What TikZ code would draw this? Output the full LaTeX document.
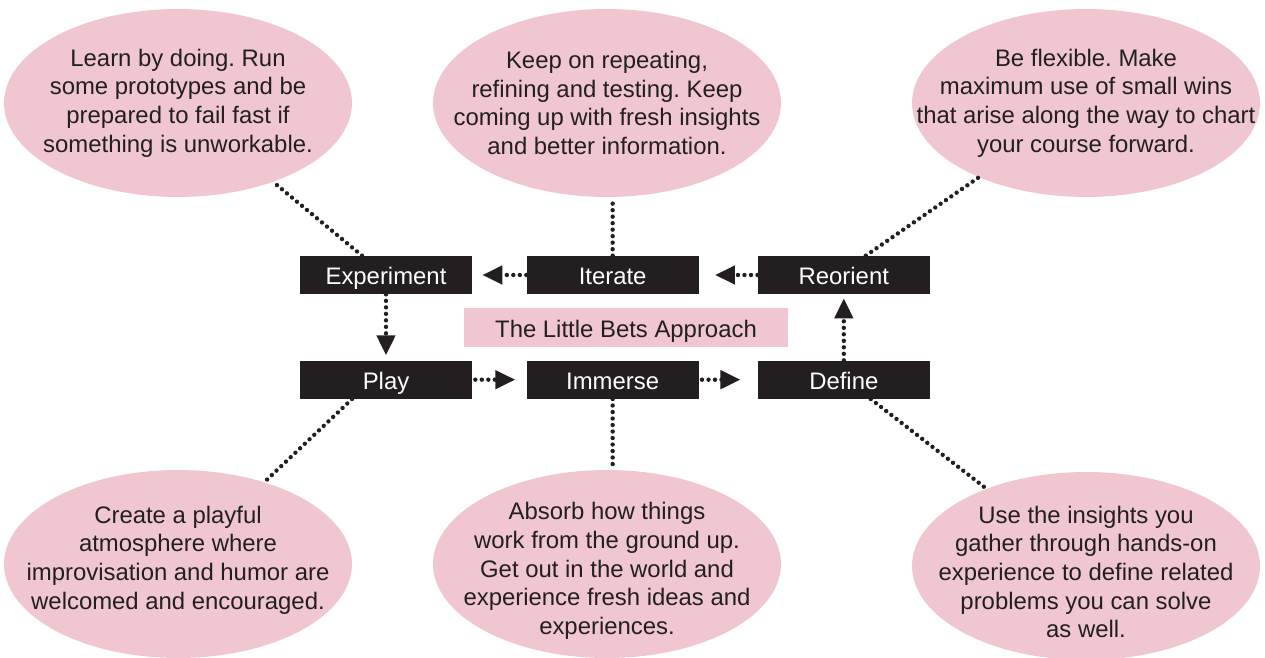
\documentclass[tikz,border=0pt]{standalone}
\usepackage{fontspec}
\setmainfont{Liberation Sans}
\frenchspacing
\usetikzlibrary{arrows.meta, positioning, shapes.geometric}
\definecolor{BetPink}{RGB}{240, 198, 208}
\definecolor{Ink}{RGB}{35, 31, 32}

\begin{document}
\begin{tikzpicture}[
    x=0.02cm, y=-0.02cm,
    every node/.style={font=\fontsize{13.6}{16.3}\selectfont, align=center},
    stage/.style={fill=Ink, text=white, inner sep=0pt, text height=11.2pt, text depth=0pt,
                minimum width=3.44cm, minimum height=0.76cm},
    bubble/.style={ellipse, fill=BetPink, inner sep=0pt,
                minimum width=6.96cm, minimum height=3.76cm},
    blurb/.style={text=Ink, inner sep=0pt},
    heading/.style={fill=BetPink, text=Ink, inner sep=0pt, text height=11.2pt, text depth=0pt,
                minimum width=6.48cm, minimum height=0.78cm},
    dotline/.style={Ink, line width=2.5pt, line cap=round, dash pattern=on 0pt off 3.7pt},
    flow/.style={dotline, -{Triangle[length=0.4cm, width=0.36cm]}}
]
\useasboundingbox (0,0) rectangle (1265,658);

% the six stages
\node[stage] (exp) at (386,275) {Experiment};
\node[stage, right=1.08cm of exp] (it) {Iterate};
\node[stage, right=1.17cm of it] (reo) {Reorient};
\node[stage, below=1.32cm of exp] (play) {Play};
\node[stage, below=1.32cm of it] (imm) {Immerse};
\node[stage, below=1.32cm of reo] (def) {Define};
\node[heading] (lba) at (626,327.5) {The Little Bets Approach};

% the bubbles
\node[bubble] (tl) at (178,103) {};
\node[blurb] (tltext) at (178,103) {Learn by doing. Run\\some prototypes and be\\prepared to fail fast if\\something is unworkable.};
\node[bubble] (tm) at (607,103) {};
\node[blurb] (tmtext) at (607,103) {Keep on repeating,\\refining and testing. Keep\\coming up with fresh insights\\and better information.};
\node[bubble] (tr) at (1086,103) {};
\node[blurb] (trtext) at (1086,103) {Be flexible. Make\\maximum use of small wins\\that arise along the way to chart\\your course forward.};
\node[bubble] (bl) at (178,564) {};
\node[blurb] (bltext) at (178,560) {Create a playful\\atmosphere where\\improvisation and humor are\\welcomed and encouraged.};
\node[bubble] (bm) at (607,564) {};
\node[blurb] (bmtext) at (607,571) {Absorb how things\\work from the ground up.\\Get out in the world and\\experience fresh ideas and\\experiences.};
\node[bubble] (br) at (1086,566) {};
\node[blurb] (brtext) at (1086,572) {Use the insights you\\gather through hands-on\\experience to define related\\problems you can solve\\as well.};

% ties to the bubbles
\draw[dotline] ([xshift=-0.48cm]exp.north) -- (tl);
\draw[dotline] (it.north) -- (it.north |- tm.south);
\draw[dotline] ([xshift=0.44cm]reo.north) -- (tr);
\draw[dotline] ([xshift=-0.68cm]play.south) -- (bl);
\draw[dotline] (imm.south) -- (imm.south |- bm.north);
\draw[dotline] ([xshift=0.54cm]def.south) -- (br);

% the cycle
\draw[flow, shorten >=0.2cm] (it) -- (exp);
\draw[flow, shorten >=0.32cm] (reo) -- (it);
\draw[flow, shorten >=0.1cm] (exp) -- (play);
\draw[flow, shorten <=0.06cm, shorten >=0.22cm] (play) -- (imm);
\draw[flow, shorten <=0.06cm, shorten >=0.34cm] (imm) -- (def);
\draw[flow, shorten >=0.08cm] (def) -- (reo);
\end{tikzpicture}
\end{document}
